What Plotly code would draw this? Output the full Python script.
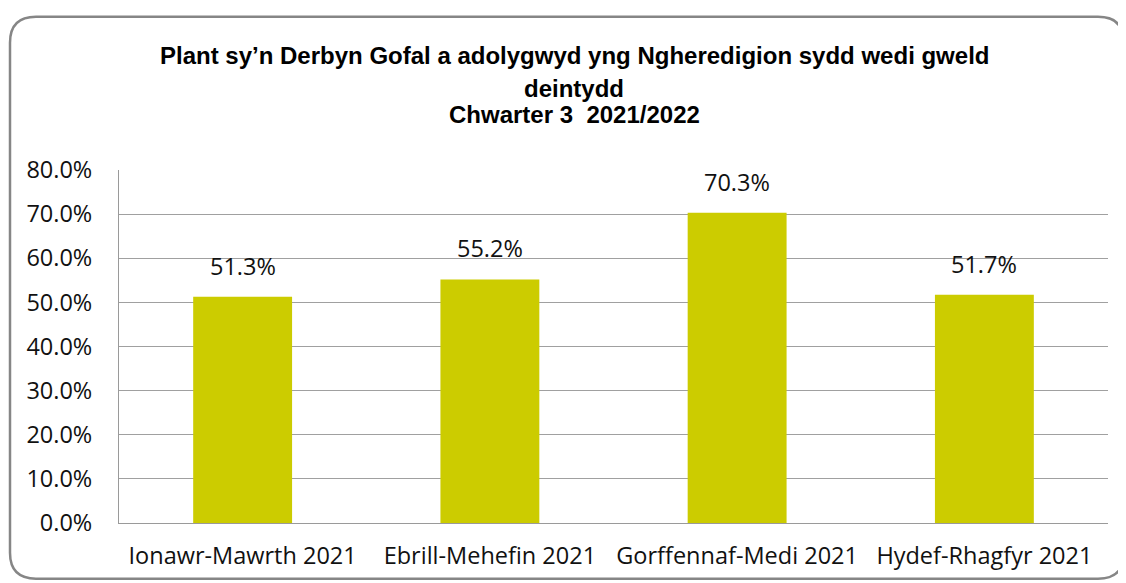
import plotly.graph_objects as go

categories = ["Ionawr-Mawrth 2021", "Ebrill-Mehefin 2021", "Gorffennaf-Medi 2021", "Hydef-Rhagfyr 2021"]
values = [51.3, 55.2, 70.3, 51.7]
tick_vals = [0, 10, 20, 30, 40, 50, 60, 70, 80]
tick_text = ["0.0%", "10.0%", "20.0%", "30.0%", "40.0%", "50.0%", "60.0%", "70.0%", "80.0%"]
title_lines = ["Plant sy\u2019n Derbyn Gofal a adolygwyd yng Ngheredigion sydd wedi gweld",
               "deintydd",
               "Chwarter 3  2021/2022"]
title_y = [55, 88, 114]  # page pixel centres of title lines

OFF = 8  # page body margin
W, H = 1126 - OFF, 583 - OFF
# plot area in page pixels
PL, PR, PT, PB = 119, 1108, 170, 525
L, T = PL - OFF, PT - OFF
R = W - (PR - OFF)
B = H - (PB - OFF)
pw = W - L - R
ph = H - T - B

def px(x):
    return (x - OFF - L) / pw

def py(y):
    return (H - B - (y - OFF)) / ph

LABEL_FONT = "Open Sans, Lato, sans-serif"
LABEL_SIZE = 23.5

fig = go.Figure()
fig.add_trace(go.Bar(
    x=categories, y=values,
    marker=dict(color="#CCCC00", line=dict(width=0)),
    width=0.4,
    hoverinfo="skip",
))

for c, v in zip(categories, values):
    fig.add_annotation(x=c, y=v, text=f"{v:.1f}%", showarrow=False,
                       yanchor="bottom", yshift=13,
                       font=dict(family=LABEL_FONT, size=LABEL_SIZE, color="#111111"))

for line, yc in zip(title_lines, title_y):
    fig.add_annotation(x=px(574), y=py(yc), xref="paper", yref="paper",
                       text=f"<b>{line}</b>", showarrow=False,
                       xanchor="center", yanchor="middle",
                       font=dict(family="Liberation Sans, Arial, sans-serif",
                                 size=24, color="black"))

# rounded border
x0, y0, x1, y1, r = 10, 16, 1124, 581, 26
path = (f"M {px(x0)},{py(y0 + r)} Q {px(x0)},{py(y0)} {px(x0 + r)},{py(y0)} "
        f"L {px(x1 - r)},{py(y0)} Q {px(x1)},{py(y0)} {px(x1)},{py(y0 + r)} "
        f"L {px(x1)},{py(y1 - r)} Q {px(x1)},{py(y1)} {px(x1 - r)},{py(y1)} "
        f"L {px(x0 + r)},{py(y1)} Q {px(x0)},{py(y1)} {px(x0)},{py(y1 - r)} Z")
fig.add_shape(type="path", path=path, xref="paper", yref="paper",
              line=dict(color="#868686", width=2.5), layer="below")

fig.update_layout(
    width=W, height=H,
    margin=dict(l=L, r=R, t=T, b=B),
    paper_bgcolor="white", plot_bgcolor="white",
    showlegend=False,
    bargap=0.6,
)
fig.update_xaxes(showline=True, linecolor="#9a9a9a", linewidth=1, ticks="",
                 tickfont=dict(family=LABEL_FONT, size=LABEL_SIZE, color="#111111"),
                 ticklabelstandoff=12)
fig.update_yaxes(range=[0, 80], tickvals=tick_vals, ticktext=tick_text,
                 showgrid=True, gridcolor="#a0a0a0", gridwidth=1,
                 showline=True, linecolor="#9a9a9a", linewidth=1, ticks="",
                 zeroline=False,
                 tickfont=dict(family=LABEL_FONT, size=LABEL_SIZE, color="#111111"),
                 ticklabelstandoff=21)

fig.write_html("out.html")
